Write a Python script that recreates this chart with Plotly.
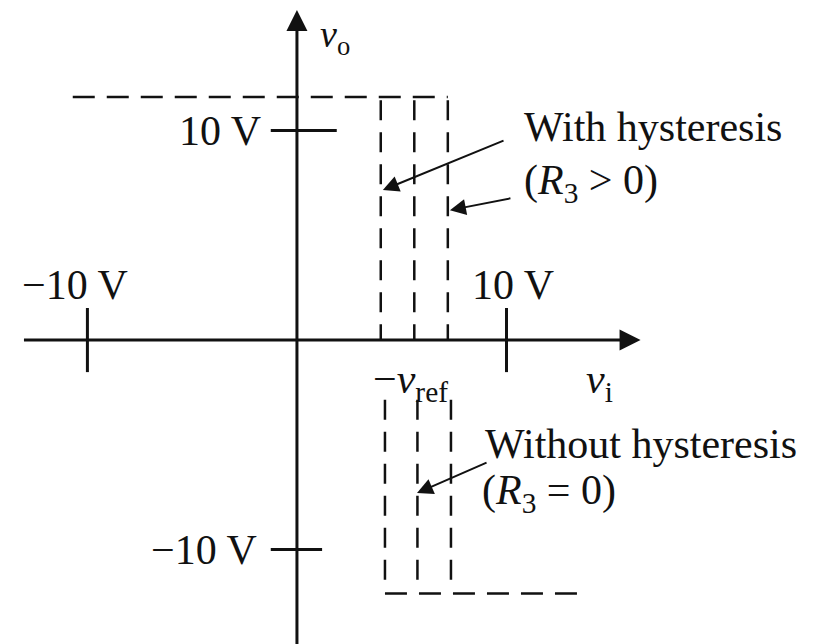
import plotly.graph_objects as go

# ---- data (volts) ----
v_sat_high = 11.6          # upper saturation level (dashed)
v_sat_low = -12.1          # lower saturation level (dashed)
upper_sat_x = [-10.7, 7.2] # extent of upper dashed level
lower_sat_x = [4.2, 13.7]  # extent of lower dashed level
thresholds_upper = [4.0, 5.6, 7.2]   # -v_ref switching lines (upper part)
thresholds_lower = [4.2, 5.75, 7.35] # -v_ref switching lines (lower part)
upper_v_span = [11.45, 0.0]
lower_v_span = [-2.85, -11.45]
x_ticks = [-10, 10]
x_tick_labels = ["\u221210 V", "10 V"]
y_ticks = [10, -10]
y_tick_labels = ["10 V", "\u221210 V"]

# page is drawn with an 8px body margin, so ranges are shifted accordingly
X_RANGE = [-13.79, 25.01]
Y_RANGE = [-14.89, 15.85]
FONT = "Liberation Serif"
FS = 42
BLACK = "#111111"

fig = go.Figure()

# saturation levels
fig.add_trace(go.Scatter(x=upper_sat_x, y=[v_sat_high, v_sat_high], mode="lines",
                         line=dict(color=BLACK, width=2.5, dash="22px,12px"), hoverinfo="skip"))
fig.add_trace(go.Scatter(x=lower_sat_x, y=[v_sat_low, v_sat_low], mode="lines",
                         line=dict(color=BLACK, width=2.5, dash="22px,12px"), hoverinfo="skip"))
# switching lines
for xv in thresholds_upper:
    fig.add_trace(go.Scatter(x=[xv, xv], y=upper_v_span, mode="lines",
                             line=dict(color=BLACK, width=2.5, dash="20px,12px"), hoverinfo="skip"))
for xv in thresholds_lower:
    fig.add_trace(go.Scatter(x=[xv, xv], y=lower_v_span, mode="lines",
                             line=dict(color=BLACK, width=2.5, dash="20px,12px"), hoverinfo="skip"))

# ticks on x axis
for xv in x_ticks:
    fig.add_trace(go.Scatter(x=[xv, xv], y=[1.53, -1.53], mode="lines",
                             line=dict(color=BLACK, width=3), hoverinfo="skip"))
# ticks on y axis
fig.add_trace(go.Scatter(x=[-1.25, 1.9], y=[y_ticks[0]] * 2, mode="lines",
                         line=dict(color=BLACK, width=3), hoverinfo="skip"))
fig.add_trace(go.Scatter(x=[-1.25, 1.2], y=[y_ticks[1]] * 2, mode="lines",
                         line=dict(color=BLACK, width=3), hoverinfo="skip"))

annotations = []
# axes with arrows
annotations.append(dict(x=16.4, y=0, ax=-13.1, ay=0, xref="x", yref="y", axref="x", ayref="y",
                        showarrow=True, arrowhead=2, arrowsize=1.4, arrowwidth=3, arrowcolor=BLACK, text=""))
annotations.append(dict(x=0, y=15.75, ax=0, ay=-15.0, xref="x", yref="y", axref="x", ayref="y",
                        showarrow=True, arrowhead=2, arrowsize=1.4, arrowwidth=3, arrowcolor=BLACK, text=""))

# tick labels
annotations.append(dict(x=-10.6, y=2.65, text=x_tick_labels[0], showarrow=False, xanchor="center", yanchor="middle"))
annotations.append(dict(x=10.3, y=2.65, text=x_tick_labels[1], showarrow=False, xanchor="center", yanchor="middle"))
annotations.append(dict(x=-1.6, y=y_ticks[0], text=y_tick_labels[0], showarrow=False, xanchor="right", yanchor="middle"))
annotations.append(dict(x=-1.8, y=y_ticks[1], text=y_tick_labels[1], showarrow=False, xanchor="right", yanchor="middle"))

# axis titles
annotations.append(dict(x=1.0, y=14.45, text="<i>v</i><sub>o</sub>", showarrow=False, xanchor="left", yanchor="middle",
                        font=dict(family=FONT, size=38, color=BLACK)))
annotations.append(dict(x=14.46, y=-2.0, text="<i>v</i><sub>i</sub>", showarrow=False, xanchor="center", yanchor="middle"))
annotations.append(dict(x=5.44, y=-2.0, text="\u2212<i>v</i><sub>ref</sub>", showarrow=False, xanchor="center", yanchor="middle"))

# descriptive labels
annotations.append(dict(x=10.75, y=10.15, text="With hysteresis", showarrow=False, xanchor="left", yanchor="middle"))
annotations.append(dict(x=10.75, y=7.5, text="(<i>R</i><sub>3</sub> &gt; 0)", showarrow=False, xanchor="left", yanchor="middle"))
annotations.append(dict(x=8.9, y=-4.95, text="Without hysteresis", showarrow=False, xanchor="left", yanchor="middle"))
annotations.append(dict(x=8.75, y=-7.3, text="(<i>R</i><sub>3</sub> = 0)", showarrow=False, xanchor="left", yanchor="middle"))

# pointer arrows
for (hx, hy, tx, ty) in [(4.1, 7.16, 9.93, 9.55), (7.3, 6.2, 10.26, 6.78), (5.73, -7.3, 9.12, -5.82)]:
    annotations.append(dict(x=hx, y=hy, ax=tx, ay=ty, xref="x", yref="y", axref="x", ayref="y",
                            showarrow=True, arrowhead=2, arrowsize=1.6, arrowwidth=2, arrowcolor=BLACK, text=""))

for a in annotations:
    a.setdefault("font", dict(family=FONT, size=FS, color=BLACK))

fig.update_layout(
    width=813, height=644,
    margin=dict(l=0, r=0, t=0, b=0),
    paper_bgcolor="white", plot_bgcolor="white",
    showlegend=False,
    xaxis=dict(range=X_RANGE, visible=False, fixedrange=True),
    yaxis=dict(range=Y_RANGE, visible=False, fixedrange=True),
    annotations=annotations,
    font=dict(family=FONT, size=FS, color=BLACK),
)

fig.write_html("out.html")
